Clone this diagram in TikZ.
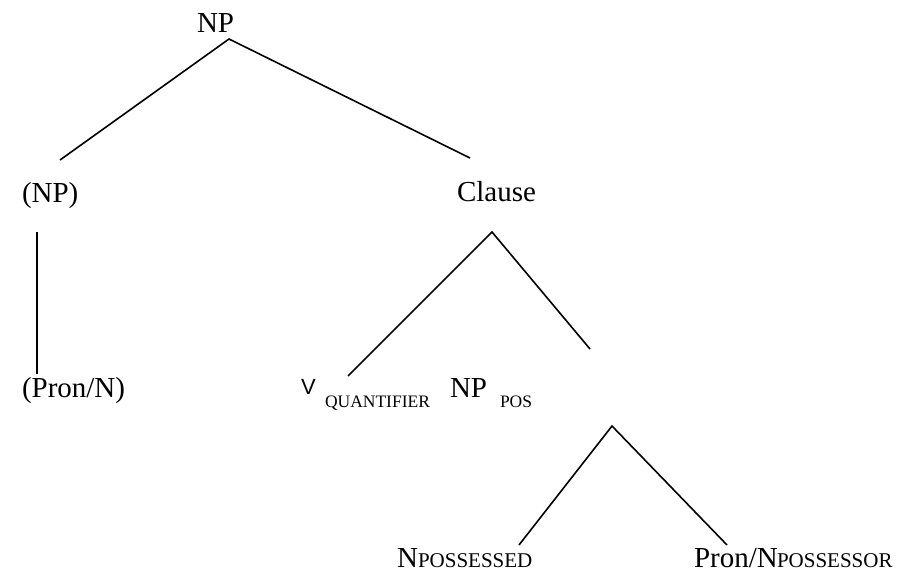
\documentclass[tikz,border=0pt]{standalone}
\usepackage{fontspec}
\setmainfont{Liberation Serif}
\newfontfamily\arialfont{Liberation Sans}
\begin{document}
\begin{tikzpicture}[x=1pt,y=-1pt,
  lab/.style={anchor=base west,inner sep=0pt,outer sep=0pt,font=\fontsize{29}{34}\selectfont},
  vlab/.style={anchor=base west,inner sep=0pt,outer sep=0pt,font=\arialfont\fontsize{22}{26}\selectfont},
  sublab/.style={anchor=base west,inner sep=0pt,outer sep=0pt,font=\fontsize{17.5}{20}\selectfont},
  caplab/.style={anchor=base west,inner sep=0pt,outer sep=0pt,font=\fontsize{21}{24}\selectfont},
  edge/.style={draw=black,line width=1.6pt}]
\useasboundingbox (0,0) rectangle (911,580);
% labels
\node[lab] (np) at (197,33) {NP};
\node[lab] (npopt) at (22,203) {(NP)};
\node[lab] (clause) at (457,202) {Clause};
\node[lab] (pronopt) at (22,397) {(Pron/N)};
\node[vlab] (v) at (301,394) {V};
\node[sublab] (vq) at (325,407) {QUANTIFIER};
\node[lab] (nppos) at (450,397) {NP};
\node[sublab] (pos) at (500,407) {POS};
\node[lab] (n) at (397,567) {N};
\node[caplab] (possd) at (418,567) {POSSESSED};
\node[lab] (pn) at (694,567) {Pron/N};
\node[caplab] (possr) at (777,567) {POSSESSOR};
% connector end points
\coordinate (a0) at (229,39);
\coordinate (a1) at (60,160);
\coordinate (a2) at (470,158);
\coordinate (b0) at (37,232);
\coordinate (b1) at (37,374);
\coordinate (c0) at (492,232);
\coordinate (c1) at (348,376);
\coordinate (c2) at (590,349);
\coordinate (d0) at (612,426);
\coordinate (d1) at (519,545);
\coordinate (d2) at (727,545);
% connectors
\draw[edge] (a1) -- (a0) -- (a2);
\draw[edge] (b0) -- (b1);
\draw[edge] (c1) -- (c0) -- (c2);
\draw[edge] (d1) -- (d0) -- (d2);
\end{tikzpicture}
\end{document}
